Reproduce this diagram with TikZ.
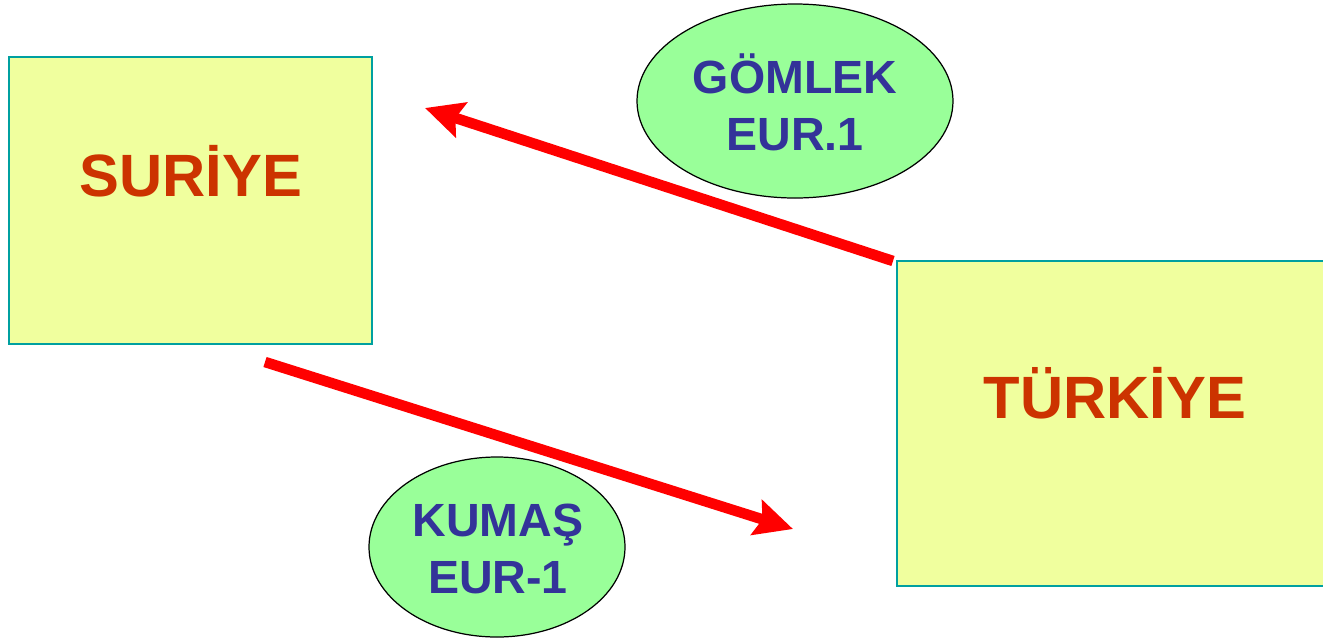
\documentclass[tikz,border=0pt]{standalone}
\usepackage{fontspec}
\setmainfont{Liberation Sans}
\usetikzlibrary{arrows.meta}
\definecolor{boxfill}{HTML}{F0FF9E}
\definecolor{boxline}{HTML}{00A0A0}
\definecolor{country}{HTML}{CC3300}
\definecolor{ellfill}{HTML}{99FF99}
\definecolor{elltext}{HTML}{333399}
\definecolor{arrred}{HTML}{FF0000}
\tikzset{
  countrybox/.style={draw=boxline, line width=1.2pt, fill=boxfill},
  countrytext/.style={text=country, font=\fontsize{34}{40}\selectfont\bfseries},
  docell/.style={draw=black, line width=0.7pt, fill=ellfill},
  doctext/.style={text=elltext, font=\fontsize{26.5}{32.5}\selectfont\bfseries, align=center},
  flow/.style={draw=arrred, line width=6pt, -{Stealth[length=21.6pt, width=20.5pt, inset=3.4pt]}}
}
\begin{document}
\begin{tikzpicture}[x=0.02cm, y=-0.02cm]
\useasboundingbox (0,0) rectangle (1323,640);
% boxes
\draw[countrybox] (9,57) rectangle (372,344);
\draw[countrybox] (897,261) rectangle (1330,586);
\node[countrytext] (suriye) at (191,171) {SURİYE};
\node[countrytext] (turkiye) at (1115,393) {TÜRKİYE};
% ellipses
\draw[docell] (795,101) ellipse [x radius=158, y radius=97];
\node[doctext] (gomlek) at (795,102) {GÖMLEK\\EUR.1};
\draw[docell] (497,547) ellipse [x radius=128, y radius=90];
\node[doctext] (kumas) at (498,549) {KUMAŞ\\EUR-1};
% arrows
\coordinate (a1s) at (893,261);
\coordinate (a1e) at (425,108);
\coordinate (a2s) at (265,362);
\coordinate (a2e) at (793,529);
\draw[flow] (a1s) -- (a1e);
\draw[flow] (a2s) -- (a2e);
\end{tikzpicture}
\end{document}
